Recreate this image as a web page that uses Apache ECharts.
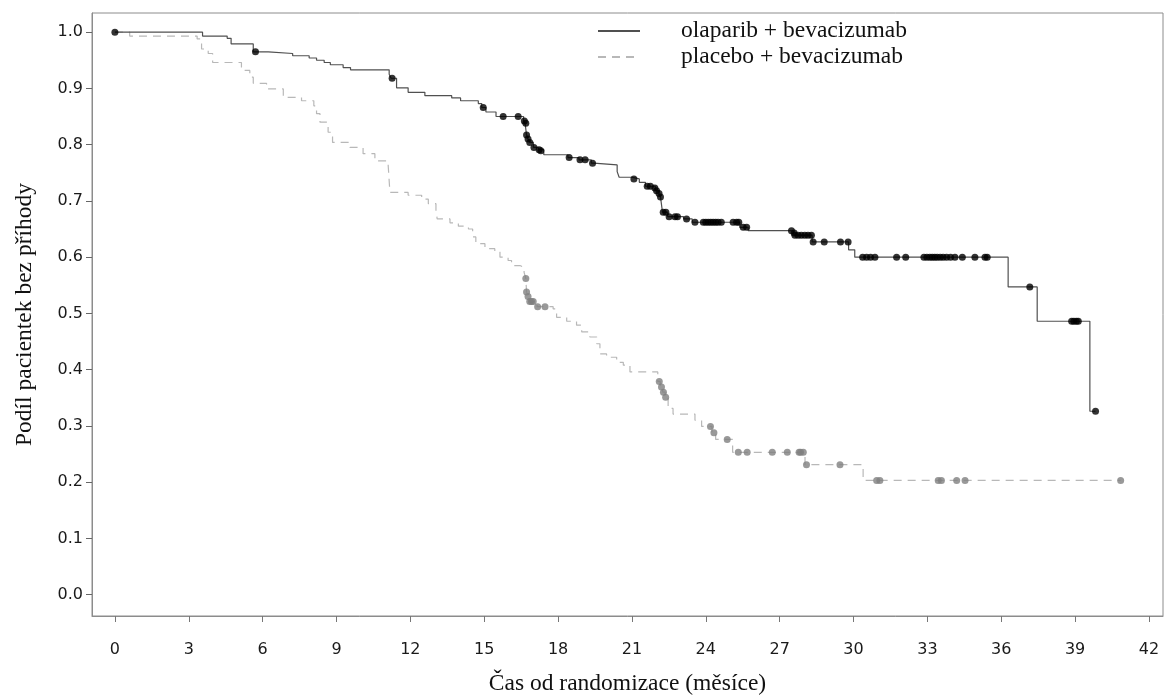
<!DOCTYPE html>
<html>
<head>
<meta charset="utf-8">
<script src="https://cdn.jsdelivr.net/npm/echarts@6/dist/echarts.min.js"></script>
<style>html,body{margin:0;padding:0;background:#fff}#c{width:1169px;height:697px}</style>
</head>
<body>
<div id="c"></div>
<script>
const seriesNames = ['olaparib + bevacizumab', 'placebo + bevacizumab'];
const xTicks = [0, 3, 6, 9, 12, 15, 18, 21, 24, 27, 30, 33, 36, 39, 42];
const yTicks = [0.0, 0.1, 0.2, 0.3, 0.4, 0.5, 0.6, 0.7, 0.8, 0.9, 1.0];
const xTitle = 'Čas od randomizace (měsíce)';
const yTitle = 'Podíl pacientek bez příhody';

const olaSteps = [
  [0,1.0],[3.56,0.993],[4.56,0.989],[4.72,0.979],[5.62,0.965],[6.23,0.962],[7.22,0.958],
  [7.89,0.954],[8.19,0.950],[8.5,0.946],[8.75,0.942],[9.27,0.937],[9.57,0.933],[11.14,0.925],
  [11.22,0.918],[11.44,0.901],[11.91,0.893],[12.59,0.887],[13.68,0.883],[14.04,0.878],[14.76,0.873],
  [14.9,0.866],[15.07,0.858],[15.48,0.850],[16.6,0.842],[16.66,0.838],[16.72,0.817],[16.78,0.810],
  [16.85,0.804],[17.0,0.795],[17.2,0.791],[17.42,0.782],[18.4,0.777],[18.85,0.773],[19.35,0.767],
  [19.45,0.764],[20.40,0.752],[20.48,0.742],[21.0,0.739],[21.3,0.733],[21.55,0.726],[21.95,0.718],
  [22.1,0.713],[22.16,0.707],[22.24,0.680],[22.45,0.672],[23.1,0.668],[23.45,0.662],[25.38,0.653],
  [25.72,0.647],[27.55,0.643],[27.6,0.639],[28.32,0.627],[29.80,0.613],[30.05,0.600],[36.28,0.547],
  [37.46,0.486],[39.60,0.326],[39.83,0.326]
];
const olaCensor = [
  [0,1.0],[5.71,0.965],[11.26,0.918],[14.96,0.866],[15.77,0.850],[16.38,0.850],[16.63,0.842],[16.69,0.838],
  [16.72,0.817],[16.78,0.810],[16.85,0.804],[17.02,0.795],[17.23,0.791],[17.3,0.789],
  [18.45,0.777],[18.89,0.773],[19.10,0.773],[19.40,0.767],[21.08,0.739],
  [21.62,0.726],[21.75,0.726],[21.93,0.723],[22.0,0.718],[22.1,0.713],[22.16,0.707],
  [22.27,0.680],[22.38,0.680],[22.51,0.672],[22.75,0.672],[22.85,0.672],[23.22,0.668],[23.56,0.662],
  [23.9,0.662],[24.0,0.662],[24.1,0.662],[24.2,0.662],[24.3,0.662],[24.4,0.662],[24.5,0.662],[24.63,0.662],
  [25.11,0.662],[25.25,0.662],[25.34,0.662],[25.52,0.653],[25.66,0.653],[27.48,0.647],[27.59,0.643],
  [27.62,0.639],[27.75,0.639],[27.88,0.639],[28.02,0.639],[28.15,0.639],[28.29,0.639],
  [28.36,0.627],[28.81,0.627],[29.47,0.627],[29.78,0.627],
  [30.37,0.600],[30.53,0.600],[30.69,0.600],[30.87,0.600],[31.75,0.600],[32.12,0.600],
  [32.86,0.600],[32.98,0.600],[33.1,0.600],[33.2,0.600],[33.3,0.600],[33.4,0.600],[33.52,0.600],[33.64,0.600],
  [33.78,0.600],[33.94,0.600],[34.12,0.600],[34.42,0.600],[34.93,0.600],[35.34,0.600],[35.43,0.600],
  [37.16,0.547],[38.86,0.486],[38.95,0.486],[39.05,0.486],[39.13,0.486],[39.83,0.326]
];
const plaSteps = [
  [0,1.0],[0.6,0.993],[3.34,0.988],[3.52,0.970],[3.79,0.962],[3.97,0.946],[5.14,0.932],[5.48,0.920],
  [5.62,0.909],[6.16,0.899],[6.84,0.884],[7.58,0.878],[8.08,0.869],[8.19,0.855],[8.33,0.840],
  [8.66,0.822],[8.84,0.804],[9.55,0.795],[10.08,0.784],[10.56,0.771],[11.10,0.763],[11.17,0.715],
  [11.91,0.710],[12.46,0.703],[12.73,0.695],[13.04,0.683],[13.09,0.668],[13.61,0.661],[13.95,0.655],
  [14.36,0.650],[14.53,0.636],[14.66,0.624],[15.03,0.615],[15.43,0.609],[15.64,0.600],[15.97,0.594],
  [16.11,0.585],[16.45,0.582],[16.62,0.573],[16.69,0.562],[16.72,0.538],[16.78,0.530],[16.85,0.521],
  [17.15,0.512],[17.80,0.508],[17.94,0.493],[18.35,0.486],[18.75,0.479],[18.96,0.467],[19.29,0.458],
  [19.57,0.446],[19.70,0.428],[19.97,0.422],[20.38,0.413],[20.65,0.408],[20.92,0.396],[22.05,0.379],
  [22.15,0.369],[22.25,0.360],[22.35,0.351],[22.47,0.331],[22.67,0.321],[23.56,0.310],[23.83,0.299],
  [24.25,0.288],[24.4,0.276],[25.09,0.253],[28.03,0.231],[30.39,0.203],[40.85,0.203]
];
const plaCensor = [
  [16.69,0.562],[16.72,0.538],[16.78,0.530],[16.85,0.521],[16.92,0.521],[16.99,0.521],[17.17,0.512],[17.47,0.512],
  [22.11,0.379],[22.2,0.369],[22.28,0.360],[22.37,0.351],[24.19,0.299],[24.33,0.288],[24.87,0.276],
  [25.32,0.253],[25.68,0.253],[26.70,0.253],[27.31,0.253],[27.79,0.253],[27.85,0.253],[27.96,0.253],
  [28.09,0.231],[29.45,0.231],[30.94,0.203],[31.07,0.203],[33.44,0.203],[33.57,0.203],[34.19,0.203],
  [34.53,0.203],[40.85,0.203]
];

const chart = echarts.init(document.getElementById('c'), null, {renderer: 'canvas'});
const axisGrey = '#8c8c8c';
const tickFont = {fontFamily: 'DejaVu Sans', fontSize: 16, color: '#1a1a1a'};
const titleFont = {fontFamily: 'Liberation Serif', fontSize: 23.5, color: '#111'};
chart.setOption({
  animation: false,
  backgroundColor: '#fff',
  grid: {left: 92, top: 13, right: 6, bottom: 81, show: true, borderColor: axisGrey, borderWidth: 1,
         containLabel: false, outerBoundsMode: 'none'},
  legend: {
    orient: 'vertical', left: 592, top: 14,
    data: seriesNames,
    itemWidth: 42, itemHeight: 14, itemGap: 2,
    itemStyle: {opacity: 0},
    textStyle: {fontFamily: 'Liberation Serif', fontSize: 23.5, color: '#111', padding: [0, 0, 0, 36]}
  },
  xAxis: {
    type: 'value', min: -0.93, max: 42.57,
    splitLine: {show: false},
    axisLine: {onZero: false, lineStyle: {color: axisGrey}},
    axisTick: {show: true, inside: false, length: 6, lineStyle: {color: '#777'}, customValues: xTicks},
    axisLabel: Object.assign({margin: 26, customValues: xTicks, formatter: v => String(v)}, tickFont),
    name: xTitle, nameLocation: 'middle', nameGap: 56,
    nameTextStyle: titleFont
  },
  yAxis: {
    type: 'value', min: -0.038, max: 1.034,
    splitLine: {show: false},
    axisLine: {show: true, onZero: false, lineStyle: {color: axisGrey}},
    axisTick: {show: true, inside: false, length: 6, lineStyle: {color: '#666', width: 1}, customValues: yTicks},
    axisLabel: Object.assign({margin: 9, customValues: yTicks, formatter: v => v.toFixed(1)}, tickFont),
    name: yTitle, nameLocation: 'middle', nameGap: 55, nameRotate: 90,
    nameTextStyle: titleFont
  },
  series: [
    {name: seriesNames[0], type: 'line', step: 'end', data: olaSteps, symbol: 'none',
     lineStyle: {color: '#505050', width: 1.2}, itemStyle: {color: '#505050'}, z: 3},
    {name: seriesNames[1], type: 'line', step: 'end', data: plaSteps, symbol: 'none',
     lineStyle: {color: '#b8b8b8', width: 1.2, type: [8, 6]}, itemStyle: {color: '#b8b8b8'}, z: 2},
    {name: 'olaCens', type: 'scatter', data: olaCensor, symbolSize: 7,
     itemStyle: {color: '#000'}, z: 4},
    {name: 'plaCens', type: 'scatter', data: plaCensor, symbolSize: 7,
     itemStyle: {color: '#7f7f7f'}, z: 4}
  ]
});
</script>
</body>
</html>
